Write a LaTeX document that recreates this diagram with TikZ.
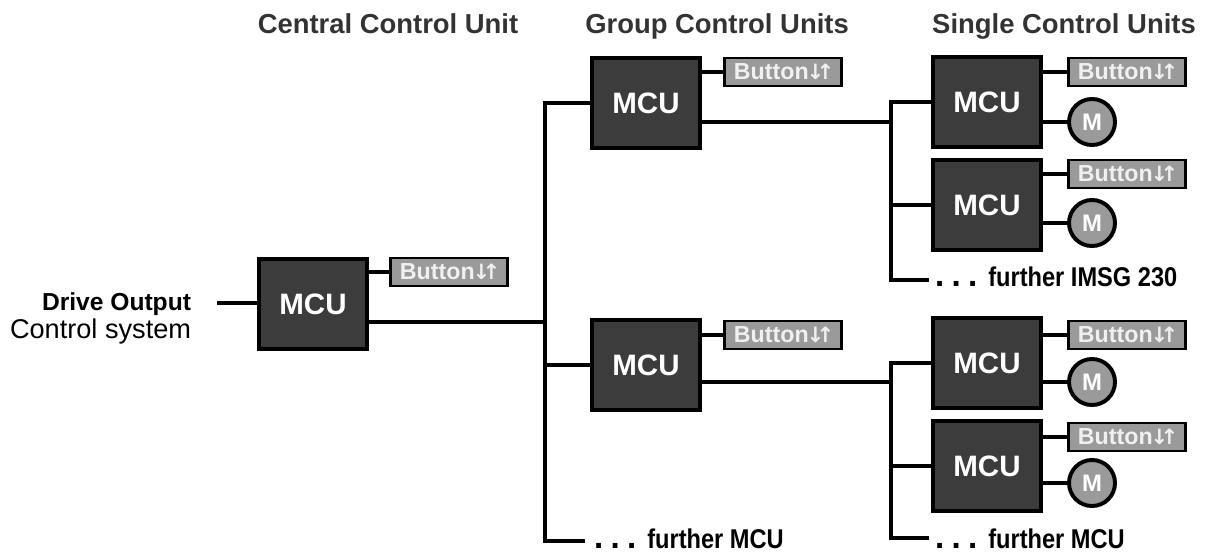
\documentclass[tikz,border=0pt]{standalone}
\usepackage{fontspec}
\setmainfont{Liberation Sans}
\newfontfamily\condfont[FakeStretch=0.87]{Liberation Sans}
\newfontfamily\arrfont{DejaVu Sans}
\definecolor{boxfill}{HTML}{3C3C3C}
\definecolor{btnfill}{HTML}{9A9A9A}
\definecolor{btntext}{HTML}{F0F0F0}
\definecolor{titlecol}{HTML}{333333}
\tikzset{
  mcu/.style={draw=black, line width=2.5pt, fill=boxfill, minimum width=2.71cm, minimum height=2.24cm, inner sep=0pt,
    text=white, font=\fontsize{21}{24}\selectfont\bfseries},
  btn/.style={draw=black, line width=2.1pt, fill=btnfill, minimum width=2.925cm, minimum height=0.7cm, inner sep=0pt,
    text=btntext, font=\fontsize{16.5}{18}\selectfont\bfseries},
  motor/.style={draw=black, line width=2.8pt, fill=btnfill, circle, minimum size=1.15cm, inner sep=0pt,
    text=white, font=\fontsize{17}{18}\selectfont\bfseries},
  conn/.style={line width=2.8pt, line cap=butt},
  ttl/.style={anchor=base, text=titlecol, font=\fontsize{19.5}{23}\selectfont\bfseries},
  further/.style={anchor=base west, inner sep=1pt, font=\condfont\fontsize{19.3}{23}\selectfont\bfseries},
}
\newcommand{\dotsfur}{{\arrfont\bfseries\fontsize{19}{19}\selectfont.\kern4.5pt.\kern4.5pt.\kern7.5pt}}
\newcommand{\btntxt}{Button{\arrfont\bfseries\fontsize{15}{18}\selectfont\kern-1.5pt↓\kern-5.5pt↑\kern-1.5pt}}
\begin{document}
\begin{tikzpicture}[x=0.025cm, y=-0.025cm]
\useasboundingbox (0,0) rectangle (1211,553);
% titles
\node[ttl] (t1) at (388,33) {Central Control Unit};
\node[ttl] (t2) at (717,33) {Group Control Units};
\node[ttl] (t3) at (1064,33) {Single Control Units};
% drive output
\node[anchor=base east, font=\fontsize{17.5}{20}\selectfont\bfseries] (drv1) at (196,310) {Drive Output};
\node[anchor=base east, font=\fontsize{19.3}{20}\selectfont] (drv2) at (196,338) {Control system};
\coordinate (drvend) at (217,303);
% MCUs
\node[mcu] (c0) at (313,304) {MCU};
\node[mcu] (g1) at (646,103) {MCU};
\node[mcu] (g2) at (646,365) {MCU};
\node[mcu] (s1) at (987,102) {MCU};
\node[mcu] (s2) at (987,205) {MCU};
\node[mcu] (s3) at (987,363) {MCU};
\node[mcu] (s4) at (987,466) {MCU};
% buttons
\node[btn] (b0) at (449,272) {\btntxt};
\node[btn] (bg1) at (783,72) {\btntxt};
\node[btn] (bg2) at (783,335) {\btntxt};
\node[btn] (bs1) at (1127,72) {\btntxt};
\node[btn] (bs2) at (1127,174) {\btntxt};
\node[btn] (bs3) at (1127,335) {\btntxt};
\node[btn] (bs4) at (1127,437) {\btntxt};
% motors
\node[motor] (m1) at (1092,122) {M};
\node[motor] (m2) at (1092,223) {M};
\node[motor] (m3) at (1092,382) {M};
\node[motor] (m4) at (1092,483) {M};
% bus coordinates
\coordinate (busA) at (545,541);
\coordinate (busAend) at (585,541);
\coordinate (busB) at (891,280);
\coordinate (busBend) at (929,280);
\coordinate (busC) at (891,538);
\coordinate (busCend) at (929,538);
\coordinate (c0out) at (368,322);
\coordinate (g1out) at (702,122);
\coordinate (g2out) at (702,382);
% further labels
\node[further] (f1) at (592,548) {\dotsfur further MCU};
\node[further] (f2) at (933,286) {\dotsfur further IMSG 230};
\node[further] (f3) at (933,548) {\dotsfur further MCU};
% connectors
\draw[conn] (drvend) -- (drvend -| c0.west);
\draw[conn] (b0.west) -- (b0.west -| c0.east);
\draw[conn] (c0out) -- (c0out -| busA);
\draw[conn] (g1.west) -| (busA) -- (busAend);
\draw[conn] (g2.west) -- (g2.west -| busA);
\draw[conn] (bg1.west) -- (bg1.west -| g1.east);
\draw[conn] (bg2.west) -- (bg2.west -| g2.east);
\draw[conn] (g1out) -- (g1out -| busB);
\draw[conn] (s1.west) -| (busB) -- (busBend);
\draw[conn] (s2.west) -- (s2.west -| busB);
\draw[conn] (g2out) -- (g2out -| busC);
\draw[conn] (s3.west) -| (busC) -- (busCend);
\draw[conn] (s4.west) -- (s4.west -| busC);
\foreach \s/\b/\m in {s1/bs1/m1, s2/bs2/m2, s3/bs3/m3, s4/bs4/m4}{
  \draw[conn] (\b.west) -- (\b.west -| \s.east);
  \draw[conn] (\m.west) -- (\m.west -| \s.east);
}
\end{tikzpicture}
\end{document}
